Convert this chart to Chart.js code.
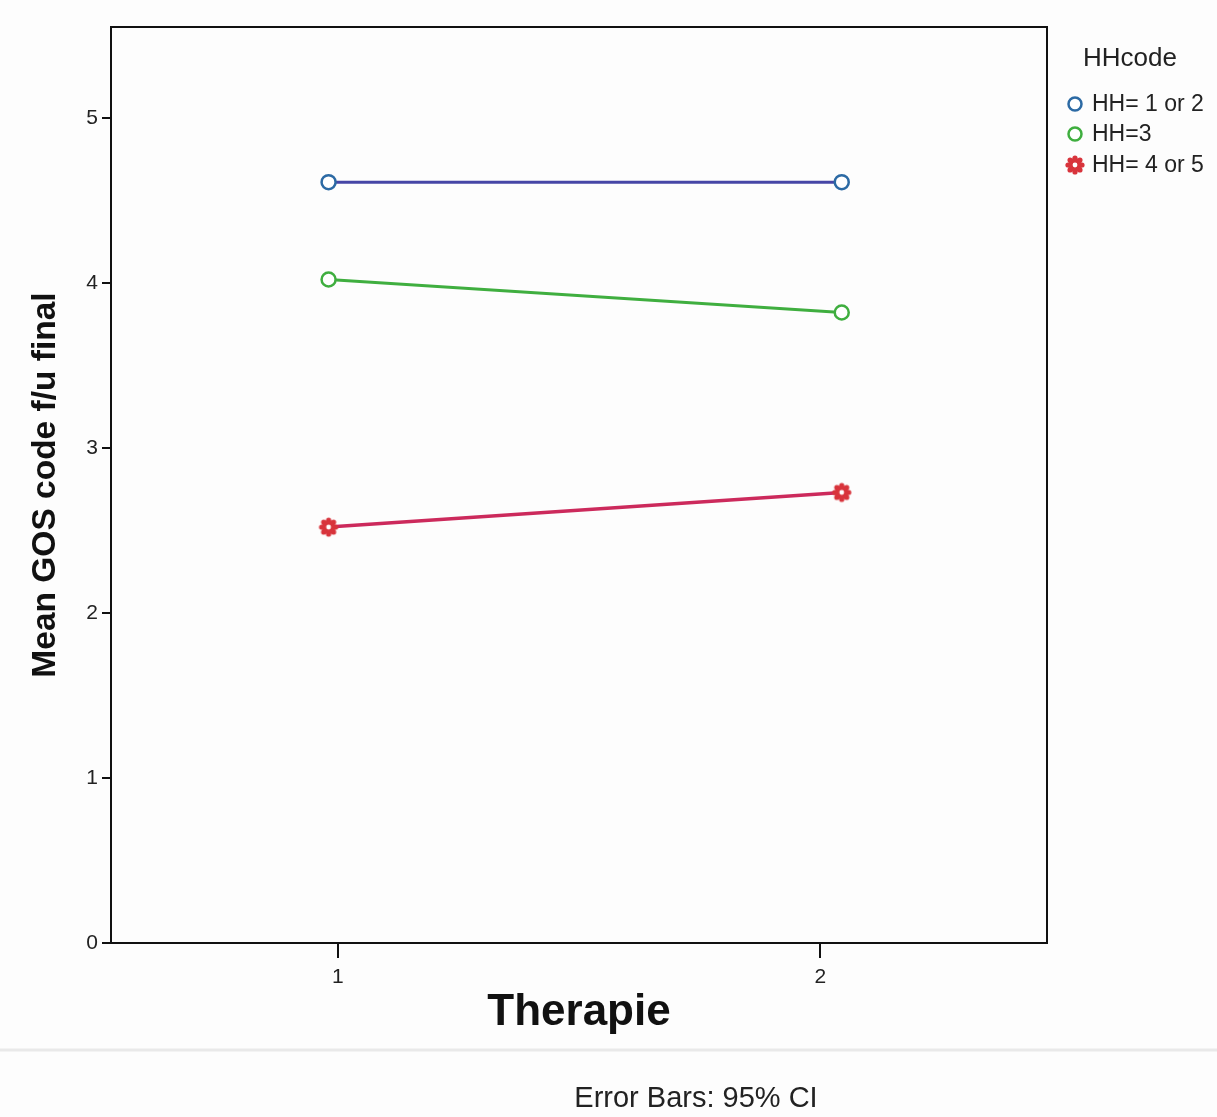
<!DOCTYPE html>
<html>
<head>
<meta charset="utf-8">
<script src="https://cdn.jsdelivr.net/npm/chart.js@4/dist/chart.umd.min.js"></script>
<style>
  html, body { margin: 0; padding: 0; background: #fdfdfd; }
  #wrap { width: 1217px; height: 1117px; position: relative; }
</style>
</head>
<body>
<div id="wrap"><canvas id="c" width="1217" height="1117"></canvas></div>
<script>
// ---- data ----
const categories = [1, 2];
const xTickLabels = ['1', '2'];
const yTickValues = [0, 1, 2, 3, 4, 5];
const seriesNames = ['HH= 1 or 2', 'HH=3', 'HH= 4 or 5'];
const hh12 = [4.61, 4.61];
const hh3 = [4.02, 3.82];
const hh45 = [2.52, 2.73];
const legendTitle = 'HHcode';
const xTitle = 'Therapie';
const yTitle = 'Mean GOS code f/u final';
const footnote = 'Error Bars: 95% CI';

// ---- styles ----
const FONT = "'Liberation Sans', Arial, sans-serif";
const lineColors = ['#4646a6', '#3fae3f', '#cc2a5c'];
const markerColors = ['#2c6aa4', '#3fae3f', '#d8343c'];

function makeStar(color) {
  const c = document.createElement('canvas');
  c.width = 22; c.height = 22;
  const g = c.getContext('2d');
  g.fillStyle = color;
  for (let k = 0; k < 8; k++) {
    const a = k * Math.PI / 4;
    g.beginPath();
    g.arc(11 + Math.cos(a) * 7, 11 + Math.sin(a) * 7, 2.6, 0, Math.PI * 2);
    g.fill();
  }
  g.beginPath(); g.arc(11, 11, 7, 0, Math.PI * 2); g.fill();
  g.fillStyle = '#ffffff';
  g.beginPath(); g.arc(11, 11, 2.4, 0, Math.PI * 2); g.fill();
  return c;
}
const starImg = makeStar(markerColors[2]);

function pts(vals) { return categories.map((c, i) => ({ x: c, y: vals[i] })); }

const extras = {
  id: 'extras',
  afterDraw(chart) {
    const ctx = chart.ctx;
    const a = chart.chartArea;
    ctx.save();
    // frame
    ctx.strokeStyle = '#111';
    ctx.lineWidth = 2;
    ctx.strokeRect(a.left, a.top, a.right - a.left, a.bottom - a.top);
    // legend
    ctx.fillStyle = '#222';
    ctx.textBaseline = 'middle';
    ctx.textAlign = 'left';
    ctx.font = '26px ' + FONT;
    ctx.fillText(legendTitle, 1083, 59);
    ctx.font = '23px ' + FONT;
    const rows = [104, 134, 165];
    seriesNames.forEach((n, i) => {
      const y = rows[i];
      if (i < 2) {
        ctx.beginPath();
        ctx.arc(1075, y, 6.5, 0, Math.PI * 2);
        ctx.fillStyle = '#fff';
        ctx.fill();
        ctx.lineWidth = 2.5;
        ctx.strokeStyle = markerColors[i];
        ctx.stroke();
      } else {
        ctx.drawImage(starImg, 1075 - 11, y - 11);
      }
      ctx.fillStyle = '#222';
      ctx.fillText(n, 1092, y + 1);
    });
    // scan edge line
    ctx.strokeStyle = 'rgba(0,0,0,0.08)';
    ctx.lineWidth = 3;
    ctx.beginPath(); ctx.moveTo(0, 1050); ctx.lineTo(1217, 1050); ctx.stroke();
    // footnote
    ctx.fillStyle = '#222';
    ctx.textAlign = 'center';
    ctx.font = '29px ' + FONT;
    ctx.fillText(footnote, 696, 1099);
    ctx.restore();
  }
};

new Chart(document.getElementById('c'), {
  type: 'line',
  data: {
    datasets: [
      { label: seriesNames[0], data: pts(hh12), borderColor: lineColors[0], borderWidth: 3,
        pointStyle: 'circle', pointRadius: 7, pointBorderWidth: 2.5,
        pointBorderColor: markerColors[0], pointBackgroundColor: '#fff', xAxisID: 'x', yAxisID: 'y' },
      { label: seriesNames[1], data: pts(hh3), borderColor: lineColors[1], borderWidth: 3,
        pointStyle: 'circle', pointRadius: 7, pointBorderWidth: 2.5,
        pointBorderColor: markerColors[1], pointBackgroundColor: '#fff', xAxisID: 'x', yAxisID: 'y' },
      { label: seriesNames[2], data: pts(hh45), borderColor: lineColors[2], borderWidth: 3.5,
        pointStyle: starImg, pointRadius: 10, xAxisID: 'x', yAxisID: 'y' }
    ]
  },
  options: {
    responsive: false,
    animation: false,
    events: [],
    layout: { padding: { left: 0, right: 170, top: 27, bottom: 0 } },
    plugins: { legend: { display: false }, tooltip: { enabled: false } },
    scales: {
      x: { type: 'linear', display: false, min: 0.576, max: 2.40 },
      xt: {
        type: 'linear', position: 'bottom', min: 0.53, max: 2.47,
        afterBuildTicks(s) { s.ticks = categories.map(v => ({ value: v })); },
        afterFit(s) { s.height = 174; },
        ticks: {
          callback: (v) => xTickLabels[categories.indexOf(v)] ?? '',
          font: { family: FONT, size: 21 }, color: '#222', padding: 7, maxRotation: 0
        },
        grid: { drawOnChartArea: false, drawTicks: true, tickLength: 15, color: '#111', lineWidth: 2 },
        border: { display: true, color: '#111', width: 2 },
        title: { display: true, text: xTitle, color: '#111',
          font: { family: FONT, size: 44, weight: 'bold' }, padding: { top: 0, bottom: 78 } }
      },
      y: {
        type: 'linear', min: 0, max: 5.55,
        afterBuildTicks(s) { s.ticks = yTickValues.map(v => ({ value: v })); },
        afterFit(s) { s.width = 111; },
        ticks: { font: { family: FONT, size: 21 }, color: '#222', padding: 4 },
        grid: { drawOnChartArea: false, drawTicks: true, tickLength: 9, color: '#111', lineWidth: 2 },
        border: { display: true, color: '#111', width: 2 },
        title: { display: true, text: yTitle, color: '#111',
          font: { family: FONT, size: 33.5, weight: 'bold' }, padding: { top: 26, bottom: 0 } }
      }
    }
  },
  plugins: [extras]
});
</script>
</body>
</html>
